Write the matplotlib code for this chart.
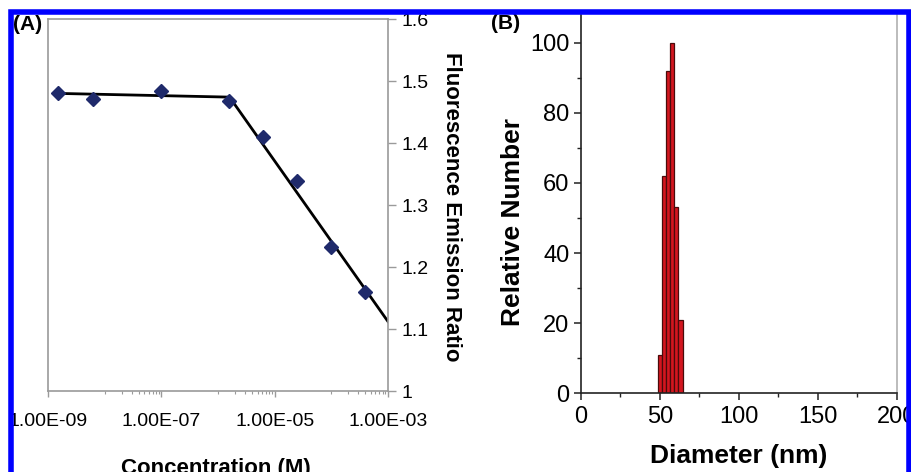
import numpy as np
import matplotlib
matplotlib.use("Agg")
import matplotlib.pyplot as plt
from matplotlib.patches import Rectangle
from matplotlib.ticker import FixedLocator, FuncFormatter, MultipleLocator

plt.rcParams["font.family"] = ["Liberation Sans", "DejaVu Sans"]

# ---------- Panel A: emission ratio vs concentration ----------
conc = [1.5e-9, 6.1e-9, 9.8e-8, 1.56e-6, 6.25e-6, 2.5e-5, 1.0e-4, 4.0e-4]
ratio = [1.481, 1.471, 1.484, 1.468, 1.410, 1.338, 1.233, 1.160]

# two-segment fit (plateau + decline)
fit_conc = [1.5e-9, 1.6e-6, 1.0e-3]
fit_ratio = [1.480, 1.474, 1.112]

ratio_ticks = [1.0, 1.1, 1.2, 1.3, 1.4, 1.5, 1.6]
conc_major = [1e-9, 1e-7, 1e-5, 1e-3]

# ---------- Panel B: size distribution ----------
diameter = [50.3, 52.9, 55.4, 58.0, 60.5, 63.1]
rel_number = [11, 62, 92, 100, 53, 21]
bin_width = 2.55

W, H = 912, 472
fig = plt.figure(figsize=(W / 100, H / 100), dpi=100)
fig.patch.set_facecolor("white")


def fx(px):
    return px / W


def fy(py):
    return 1 - py / H


# ---- (A) ----
axA = fig.add_axes([fx(48), fy(391), fx(388) - fx(48), fy(19) - fy(391)])
axA.plot(fit_conc, fit_ratio, color="black", lw=2.0, zorder=2)
axA.plot(conc, ratio, ls="none", marker="D", ms=7.5, color="#1f2a6b",
         mec="#1f2a6b", zorder=3)
axA.set_xscale("log")
axA.set_xlim(1e-9, 1e-3)
axA.set_ylim(1.0, 1.6)
axA.yaxis.tick_right()
axA.set_yticks(ratio_ticks)
axA.yaxis.set_major_formatter(FuncFormatter(lambda v, _: f"{v:g}"))
axA.xaxis.set_major_locator(FixedLocator(conc_major))
axA.xaxis.set_minor_locator(FixedLocator(
    [k * 10.0 ** e for e in (-8, -6, -4) for k in range(1, 10)]))
axA.xaxis.set_major_formatter(FuncFormatter(lambda v, _: f"{v:.2E}"))
axA.xaxis.set_minor_formatter(FuncFormatter(lambda v, _: ""))
for sp in axA.spines.values():
    sp.set_color("#9a9a9a")
    sp.set_linewidth(1.2)
axA.tick_params(axis="y", which="major", direction="out", length=6,
                width=1.0, color="#9a9a9a", pad=4, labelsize=14,
                right=True, left=False)
axA.tick_params(axis="x", which="major", direction="out", length=4,
                width=1.0, color="#9a9a9a", pad=12, labelsize=14)
axA.tick_params(axis="x", which="minor", direction="out", length=2.5,
                width=0.8, color="#9a9a9a")

fig.text(fx(451), fy(207), "Fluorescence Emission Ratio", rotation=270,
         ha="center", va="center", fontsize=16, fontweight="bold")
fig.text(fx(216), fy(458), "Concentration (M)", ha="center", va="top",
         fontsize=16, fontweight="bold")
fig.text(fx(13), fy(15), "(A)", ha="left", va="top", fontsize=15,
         fontweight="bold")

# ---- (B) ----
axB = fig.add_axes([fx(580.7), fy(393.3), fx(897) - fx(580.7),
                    fy(14.5) - fy(393.3)])
axB.bar(diameter, rel_number, width=bin_width, color="#d3161f",
        edgecolor="#4a0b0b", linewidth=0.9, zorder=2)
axB.set_xlim(0, 200)
axB.set_ylim(0, 108)
axB.xaxis.set_major_locator(MultipleLocator(50))
axB.xaxis.set_minor_locator(MultipleLocator(25))
axB.yaxis.set_major_locator(MultipleLocator(20))
axB.yaxis.set_minor_locator(MultipleLocator(10))
axB.spines["top"].set_visible(False)
axB.spines["right"].set_color("#b0b0b0")
axB.spines["left"].set_color("#222222")
axB.spines["bottom"].set_color("#222222")
for sp in axB.spines.values():
    sp.set_linewidth(1.2)
axB.tick_params(which="major", direction="out", length=5, width=1.1,
                color="#222222", labelsize=17, pad=3)
axB.tick_params(which="minor", direction="out", length=3, width=1.0,
                color="#222222")
axB.tick_params(axis="x", pad=4)

fig.text(fx(513), fy(222), "Relative Number", rotation=90, ha="center",
         va="center", fontsize=19, fontweight="bold")
fig.text(fx(739), fy(444), "Diameter (nm)", ha="center", va="top",
         fontsize=19, fontweight="bold")
fig.text(fx(491), fy(14), "(B)", ha="left", va="top", fontsize=15,
         fontweight="bold")

# blue border around the whole figure
fig.add_artist(Rectangle((fx(11.5), -0.2), fx(909.5) - fx(11.5),
                         fy(12) + 0.2, transform=fig.transFigure,
                         fill=False, edgecolor="#0000ff", linewidth=4,
                         zorder=10))

fig.savefig("out.png", dpi=100)
